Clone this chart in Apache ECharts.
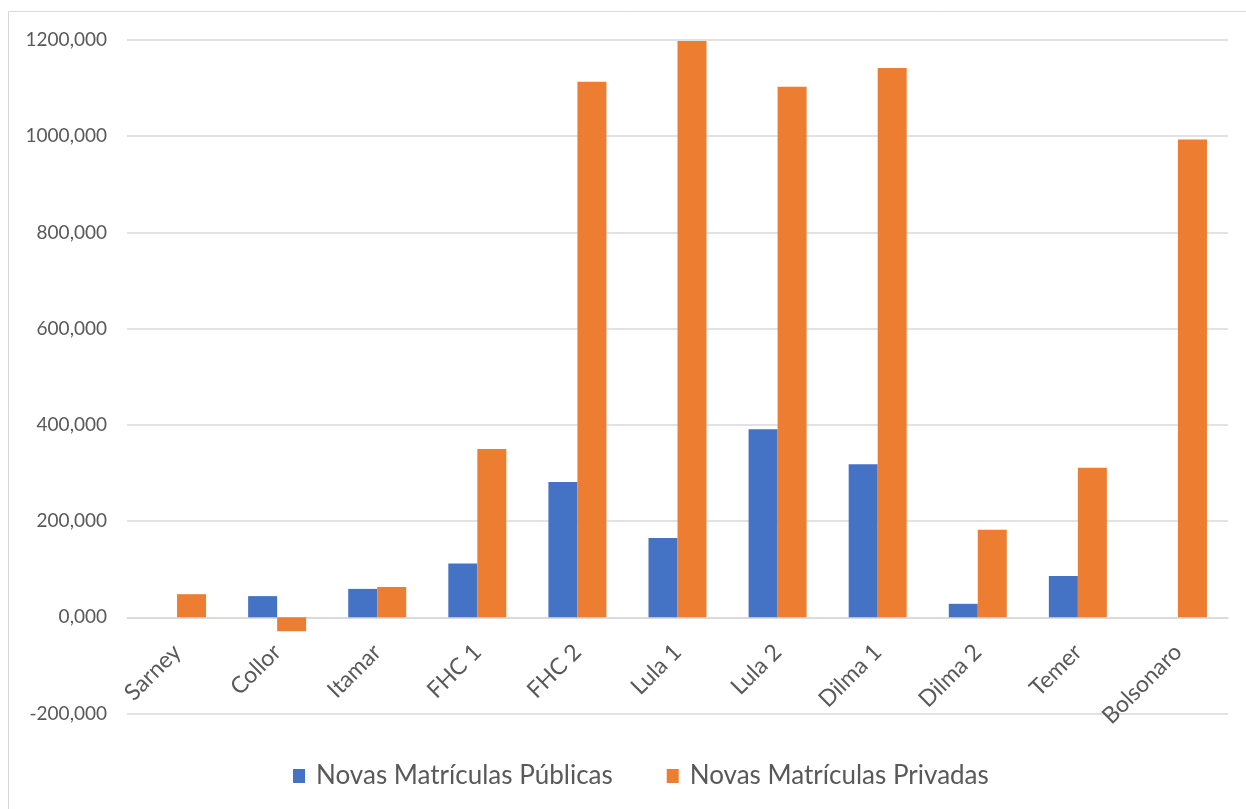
<!DOCTYPE html>
<html>
<head>
<meta charset="utf-8">
<script src="https://cdn.jsdelivr.net/npm/echarts@6/dist/echarts.min.js"></script>
<style>
  html, body { margin: 0; padding: 0; background: #ffffff; }
  #chart { width: 1246px; height: 809px; }
</style>
</head>
<body>
<div id="chart"></div>
<script>
// Presidential terms
const governos = ['Sarney', 'Collor', 'Itamar', 'FHC 1', 'FHC 2', 'Lula 1', 'Lula 2', 'Dilma 1', 'Dilma 2', 'Temer', 'Bolsonaro'];
// New enrolments (thousands)
const matriculasPublicas = [0, 44, 59, 112, 281, 165, 391, 318, 28, 86, 0];
const matriculasPrivadas = [48, -29, 63, 350, 1113, 1198, 1103, 1142, 182, 311, 993];
// Value axis
const eixoMin = -200;
const eixoMax = 1200;
const eixoPasso = 200;

const fonte = 'Lato';
const cinzaTexto = '#595959';
const cinzaGrade = '#d9d9d9';

const gridTop = 40;
const gridBottom = 95.5;
const alturaPlot = 809 - gridTop - gridBottom;
// category axis sits on the zero line
const deslocZero = -alturaPlot * (0 - eixoMin) / (eixoMax - eixoMin);

const chart = echarts.init(document.getElementById('chart'), null, { renderer: 'canvas' });

chart.setOption({
  animation: false,
  backgroundColor: '#ffffff',
  graphic: [{
    type: 'rect',
    shape: { x: 8.5, y: 11.5, width: 1300, height: 900 },
    style: { fill: 'none', stroke: cinzaGrade, lineWidth: 1 },
    silent: true
  }],
  grid: { left: 127, right: 18, top: gridTop, bottom: gridBottom, containLabel: false },
  legend: {
    left: 288,
    top: 758,
    itemWidth: 12,
    itemHeight: 14,
    itemGap: 54,
    icon: 'rect',
    textStyle: { fontFamily: fonte, fontSize: 26, color: cinzaTexto, padding: [0, 0, 0, 6] },
    data: ['Novas Matrículas Públicas', 'Novas Matrículas Privadas']
  },
  xAxis: {
    type: 'category',
    data: governos,
    offset: deslocZero,
    axisLine: { onZero: false, lineStyle: { color: cinzaGrade, width: 1.5 } },
    axisTick: { show: false },
    axisLabel: {
      rotate: 45,
      margin: 31,
      interval: 0,
      fontFamily: fonte,
      fontSize: 23,
      color: cinzaTexto
    }
  },
  yAxis: {
    type: 'value',
    min: eixoMin,
    max: eixoMax,
    interval: eixoPasso,
    axisLine: { show: false },
    axisTick: { show: false },
    splitLine: { lineStyle: { color: cinzaGrade, width: 1.5 } },
    axisLabel: {
      margin: 20,
      fontFamily: fonte,
      fontSize: 19,
      color: cinzaTexto,
      formatter: v => v + ',000'
    }
  },
  series: [
    {
      name: 'Novas Matrículas Públicas',
      type: 'bar',
      data: matriculasPublicas,
      barWidth: 29,
      barGap: '0%',
      itemStyle: { color: '#4472C4' }
    },
    {
      name: 'Novas Matrículas Privadas',
      type: 'bar',
      data: matriculasPrivadas,
      barWidth: 29,
      barGap: '0%',
      itemStyle: { color: '#ED7D31' }
    }
  ]
});
</script>
</body>
</html>
